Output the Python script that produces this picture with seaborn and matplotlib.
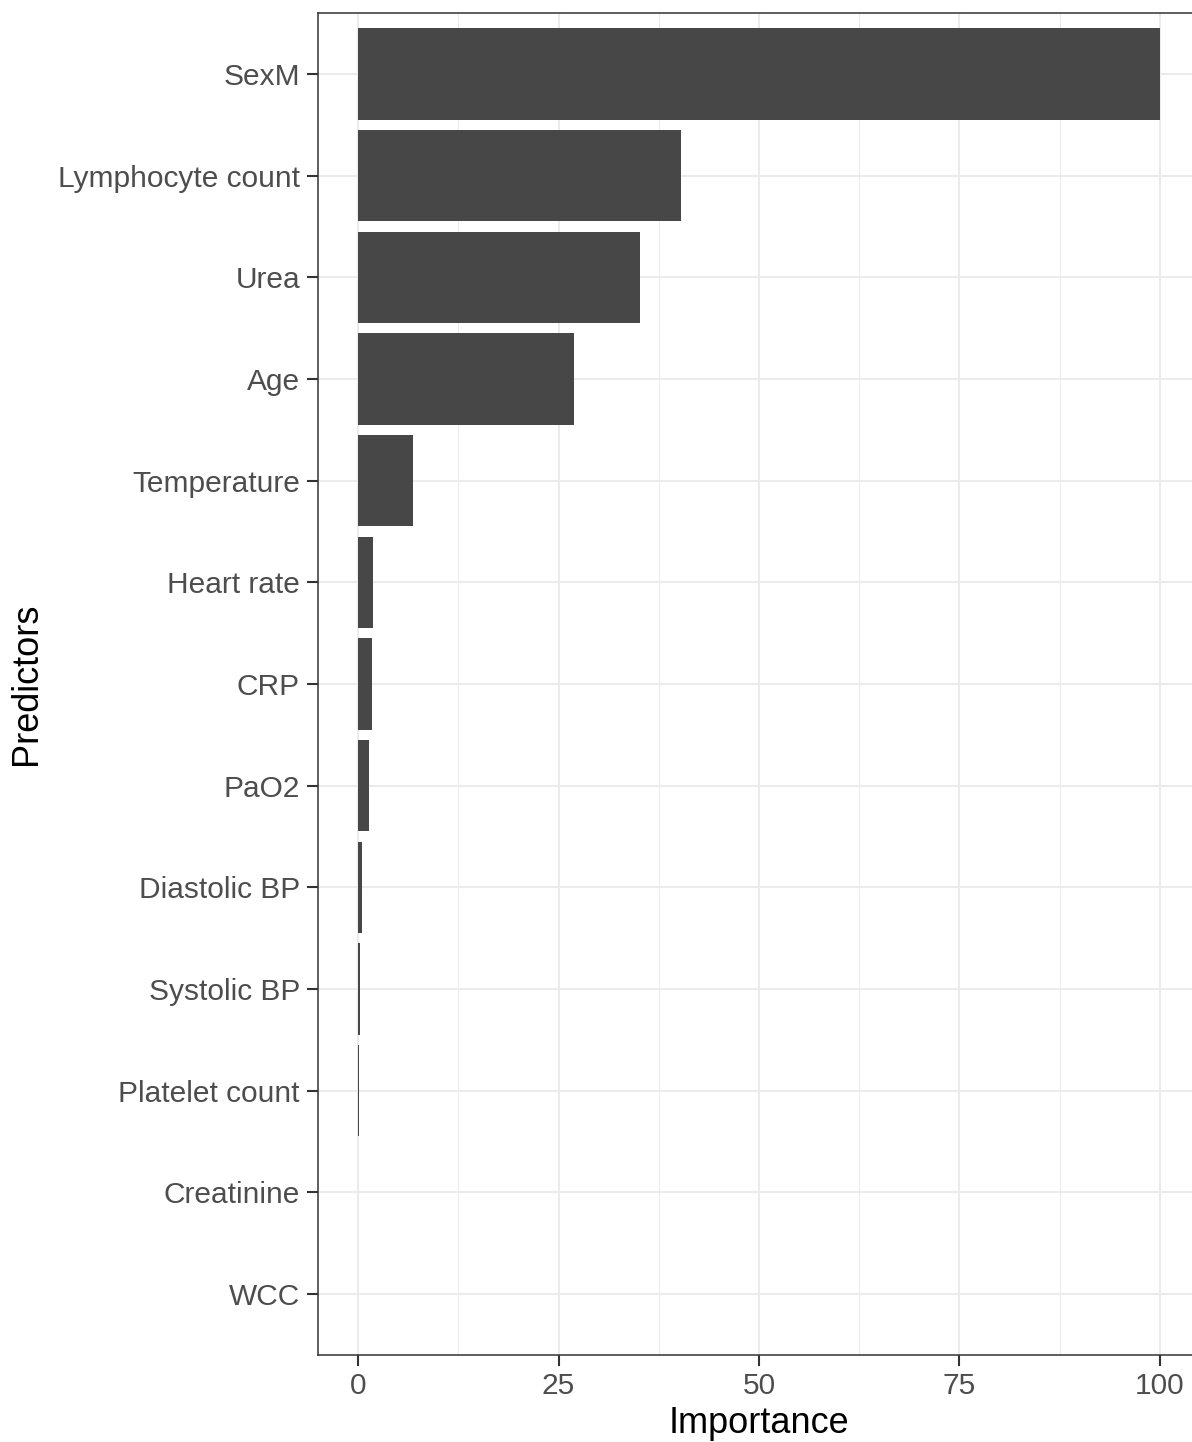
import matplotlib
matplotlib.use("Agg")
import matplotlib.pyplot as plt
import seaborn as sns
import pandas as pd
from matplotlib.ticker import MultipleLocator

predictors = ["SexM", "Lymphocyte count", "Urea", "Age", "Temperature", "Heart rate",
              "CRP", "PaO2", "Diastolic BP", "Systolic BP", "Platelet count",
              "Creatinine", "WCC"]
importance = [100, 40.3, 35.2, 26.9, 6.85, 1.9, 1.7, 1.4, 0.5, 0.22, 0.15, 0.0, 0.0]
x_ticks = [0, 25, 50, 75, 100]

df = pd.DataFrame({"Predictors": predictors, "Importance": importance})

sns.set_theme(style="white")
plt.rcParams["font.family"] = ["Liberation Sans", "DejaVu Sans"]

W, H = 1192, 1442
fig = plt.figure(figsize=(W / 100, H / 100), dpi=100)
ax = fig.add_axes([318 / W, 87 / H, 882 / W, 1342 / H])

sns.barplot(data=df, x="Importance", y="Predictors", order=predictors,
            color="#474747", saturation=1, width=0.9, ax=ax, zorder=3,
            linewidth=0)

ax.set_xlim(-5, 105)
ax.set_ylim(len(predictors) - 1 + 0.6, -0.6)
ax.set_xticks(x_ticks)
ax.xaxis.set_minor_locator(MultipleLocator(12.5))
ax.set_axisbelow(True)
ax.grid(which="major", axis="both", color="#EBEBEB", linewidth=1.5, zorder=0)
ax.grid(which="minor", axis="x", color="#EBEBEB", linewidth=0.75, zorder=0)

for s in ax.spines.values():
    s.set_color("#333333")
    s.set_linewidth(1.1)
    s.set_visible(True)

ax.tick_params(axis="both", which="major", length=8, width=1.5, color="#333333",
               labelsize=21.5, labelcolor="#4D4D4D", left=True, bottom=True)
ax.tick_params(axis="y", which="major", pad=5)
ax.tick_params(axis="x", which="major", pad=4)
ax.tick_params(axis="x", which="minor", length=0)

ax.set_xlabel("Importance", fontsize=26, color="black", labelpad=4.5)
ax.set_ylabel("Predictors", fontsize=26, color="black", labelpad=10)

fig.savefig("out.png", dpi=100)
